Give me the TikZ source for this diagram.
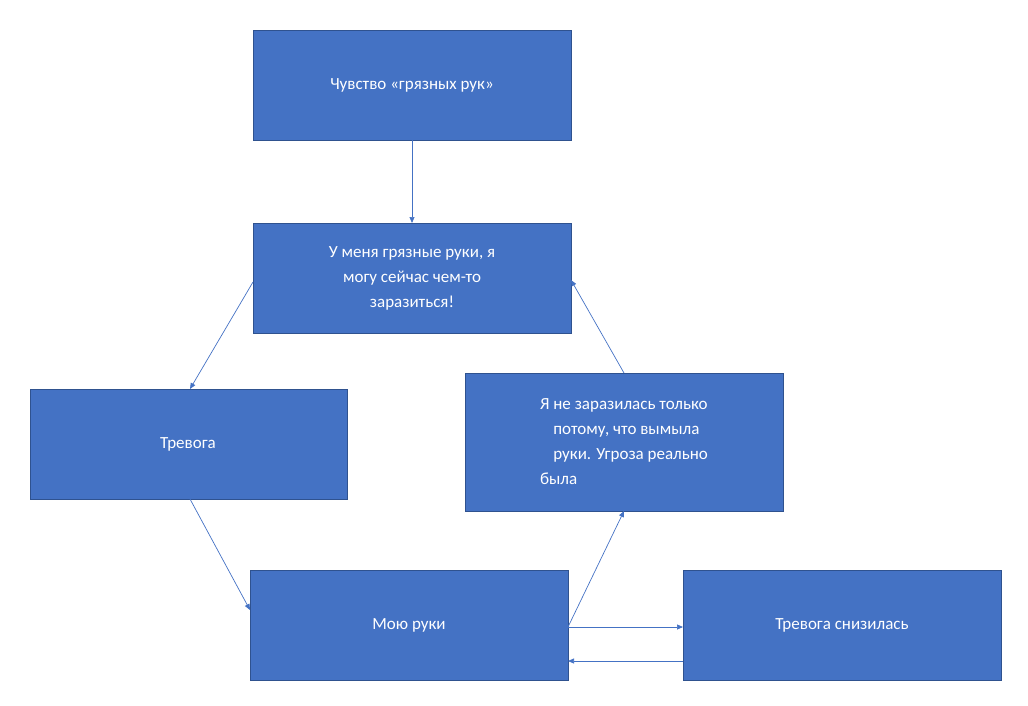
\documentclass[tikz,border=0pt]{standalone}
\usepackage{fontspec}
\setmainfont{Carlito}
\usetikzlibrary{arrows.meta}
\definecolor{boxfill}{HTML}{4472C4}
\definecolor{boxline}{HTML}{2F528F}
\begin{document}
\begin{tikzpicture}[x=1pt,y=-1pt,
  box/.style={draw=boxline,fill=boxfill,line width=1pt,text=white,font=\fontsize{17}{25}\selectfont,align=center},
  conn/.style={draw=boxfill,line width=0.7pt,-{Triangle[length=6pt,width=5pt]}}]
\useasboundingbox (0,0) rectangle (1028,705);
\path[box] (253,30) rectangle (571,140);
\node[text=white,font=\fontsize{17}{25}\selectfont] (a) at (412,85) {Чувство «грязных рук»};
\path[box] (253,223) rectangle (571,333);
\node[text=white,font=\fontsize{17}{25}\selectfont,align=center] (b) at (412,278) {У меня грязные руки, я\\могу сейчас чем-то\\заразиться!};
\path[box] (30,389) rectangle (347,499);
\node[text=white,font=\fontsize{17}{25}\selectfont] (c) at (188,444) {Тревога};
\path[box] (465,373) rectangle (783,511);
\node[text=white,font=\fontsize{17}{25}\selectfont,align=left] (d) at (624,442) {Я не заразилась только\\\hphantom{Я }потому, что вымыла\\\hphantom{Я }руки. Угроза реально\\была};
\path[box] (250,570) rectangle (568,680);
\node[text=white,font=\fontsize{17}{25}\selectfont] (e) at (409,625) {Мою руки};
\path[box] (683,570) rectangle (1001,680);
\node[text=white,font=\fontsize{17}{25}\selectfont] (f) at (842,625) {Тревога снизилась};
\coordinate (a1) at (412,140); \coordinate (b1) at (412,223);
\coordinate (b2) at (253,282); \coordinate (c1) at (190,389);
\coordinate (c2) at (190,499); \coordinate (e1) at (250,610);
\coordinate (e2) at (568,627); \coordinate (f1) at (683,627);
\coordinate (f2) at (683,661); \coordinate (e3) at (568,661);
\coordinate (d1) at (624,511); \coordinate (d2) at (624,373);
\coordinate (b3) at (571,280);
\draw[conn] (a1) -- (b1);
\draw[conn] (b2) -- (c1);
\draw[conn] (c2) -- (e1);
\draw[conn] (e2) -- (f1);
\draw[conn] (f2) -- (e3);
\draw[conn] (e2) -- (d1);
\draw[conn] (d2) -- (b3);
\end{tikzpicture}
\end{document}
